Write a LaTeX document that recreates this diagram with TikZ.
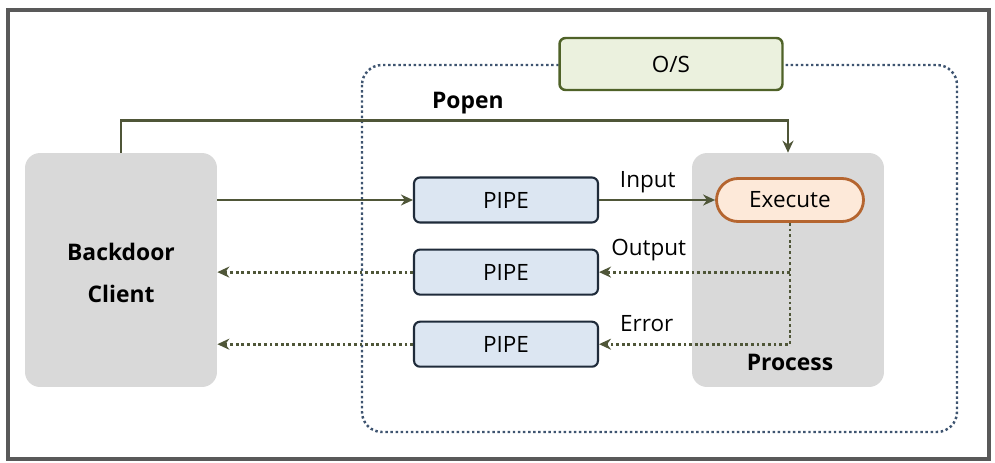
\documentclass[tikz,border=0pt]{standalone}
\usepackage{fontspec}
\setmainfont{Open Sans}
\usetikzlibrary{positioning, arrows.meta}
\definecolor{arrowcol}{HTML}{4F5638}
\definecolor{pipefill}{HTML}{DCE6F2}
\definecolor{pipeline}{HTML}{1F2B3A}
\definecolor{osfill}{HTML}{EBF1DE}
\definecolor{osline}{HTML}{4F6228}
\definecolor{execfill}{HTML}{FDE9D9}
\definecolor{execline}{HTML}{B5652F}
\definecolor{boxgray}{HTML}{D9D9D9}
\definecolor{osdots}{HTML}{3E5470}

\begin{document}
\begin{tikzpicture}[x=0.02cm, y=-0.02cm, font=\fontsize{12.8}{15}\selectfont,
  >={Stealth[length=2.4mm, width=2.2mm]},
  pipebox/.style={draw=pipeline, line width=1.2pt, rounded corners=1.2mm, fill=pipefill, minimum width=3.68cm, minimum height=0.9cm},
  bigbox/.style={fill=boxgray, rounded corners=3mm, minimum width=3.84cm, minimum height=4.68cm},
  boldlbl/.style={font=\fontsize{13}{24}\selectfont\bfseries},
  flow/.style={->, draw=arrowcol, line width=1.4pt},
  back/.style={->, draw=arrowcol, line width=1.6pt, dash pattern=on 1.6pt off 1.6pt}]
  \useasboundingbox (0,0) rectangle (995,463);
  % frame
  \draw[line width=2.6pt, draw=black!65] (8,10) rectangle (989,459);
  % operating system region
  \draw[osdots, line width=1.4pt, dash pattern=on 1.4pt off 1.5pt, rounded corners=4mm] (362,65) rectangle (957,432);
  \node[draw=osline, line width=1.4pt, fill=osfill, rounded corners=1.2mm, minimum width=4.46cm, minimum height=1.04cm] (os) at (671,64) {O/S};
  % main blocks
  \node[bigbox] (client) at (121,270) {};
  \node[boldlbl, align=center] (clientlbl) at (121,273) {Backdoor\\Client};
  \node[bigbox] (process) at (788,270) {};
  \node[boldlbl] (proclbl) at (790,362) {Process};
  \node[draw=execline, line width=1.6pt, fill=execfill, rounded corners=4.3mm, minimum width=2.94cm, minimum height=0.86cm] (exec) at (790,200) {Execute};
  % pipes
  \node[pipebox] (pipe1) at (506,200) {PIPE};
  \node[pipebox, below=0.5cm of pipe1] (pipe2) {PIPE};
  \node[pipebox, below=0.5cm of pipe2] (pipe3) {PIPE};
  % connectors
  \draw[flow] (client.north) -- ++(0,-32) -| node[pos=0.26, above=0pt, boldlbl] (popen) {Popen} (process.north);
  \draw[flow] (client.east |- pipe1) -- (pipe1.west);
  \draw[flow] (pipe1.east) -- node[above=0pt, pos=0.42] (inlbl) {Input} (exec.west);
  \draw[back] (exec.south) -- (exec.south |- pipe3) -- node[above=3pt, pos=0.75] (errlbl) {Error} (pipe3.east);
  \draw[back] (exec.south |- pipe2) -- node[above=2pt, pos=0.74] (outlbl) {Output} (pipe2.east);
  \draw[back] (pipe2.west) -- (client.east |- pipe2);
  \draw[back] (pipe3.west) -- (client.east |- pipe3);
\end{tikzpicture}
\end{document}
